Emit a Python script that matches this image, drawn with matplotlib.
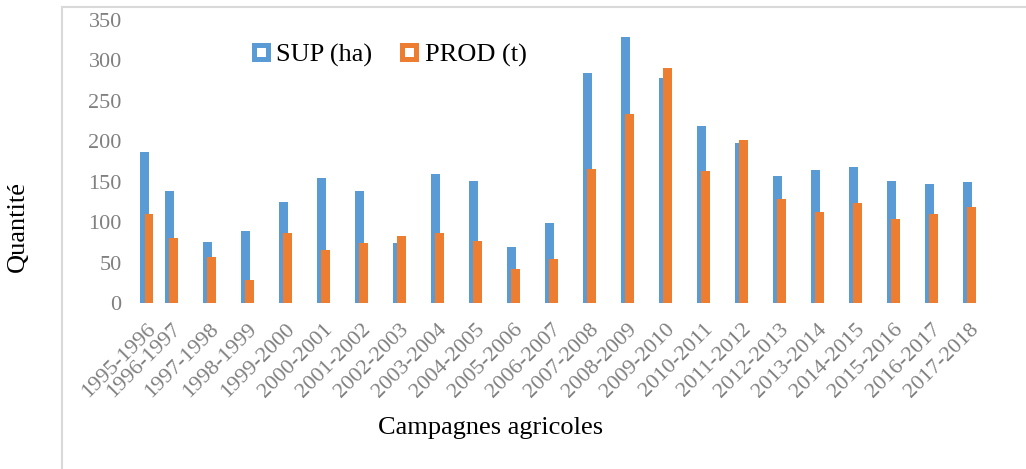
import numpy as np
import matplotlib
matplotlib.use('Agg')
import matplotlib.pyplot as plt
from matplotlib.lines import Line2D
from matplotlib.patches import Rectangle

plt.rcParams['font.family'] = ['Liberation Serif', 'DejaVu Serif']

# Campagnes agricoles
campagnes = ['1995-1996', '1996-1997', '1997-1998', '1998-1999', '1999-2000',
             '2000-2001', '2001-2002', '2002-2003', '2003-2004', '2004-2005',
             '2005-2006', '2006-2007', '2007-2008', '2008-2009', '2009-2010',
             '2010-2011', '2011-2012', '2012-2013', '2013-2014', '2014-2015',
             '2015-2016', '2016-2017', '2017-2018']

# SUP (ha)
sup = [187, 138, 75, 89, 125, 155, 138, 74, 160, 151, 69, 99,
       284, 329, 278, 219, 198, 157, 164, 168, 151, 147, 149]
# PROD (t)
prod = [110, 80, 57, 28, 86, 66, 74, 83, 87, 77, 42, 54,
        166, 234, 291, 163, 202, 128, 112, 124, 104, 110, 119]

c_sup = '#5B9BD5'
c_prod = '#ED7D31'
tick_col = '#808080'

fig = plt.figure(figsize=(10.26, 4.69), dpi=100)
ax = fig.add_axes([0.1227, 0.354, 0.8445, 0.6034])

# the first category sits closer to the second one in the original
x = np.arange(len(campagnes), dtype=float)
x[0] = 0.35

w = 0.23
ax.bar(x - 0.06, sup, width=w, color=c_sup, zorder=2)
ax.bar(x + 0.06, prod, width=w, color=c_prod, zorder=3)

ax.set_xlim(-0.2, 22.6)
ax.set_ylim(0, 350)
ax.set_yticks(np.arange(0, 351, 50))
ax.set_xticks(x)
ax.set_xticklabels(campagnes, rotation=45, ha='right', rotation_mode='anchor')
ax.tick_params(axis='both', length=0, labelsize=16, colors=tick_col)
ax.tick_params(axis='y', pad=3)
ax.tick_params(axis='x', pad=12)
for s in ax.spines.values():
    s.set_visible(False)

fig.text(491 / 1026, 1 - 428 / 469, 'Campagnes agricoles', fontsize=19,
         ha='center', va='center', color='black')
fig.text(18 / 1026, 1 - 227 / 469, 'Quantité', fontsize=19, rotation=90,
         ha='center', va='center', color='black')

handles = [Line2D([], [], ls='', marker='s', ms=9.5, mfc='white', mec=c_sup, mew=3.6),
           Line2D([], [], ls='', marker='s', ms=9.5, mfc='white', mec=c_prod, mew=3.6)]
fig.legend(handles, ['SUP (ha)', 'PROD (t)'], loc='center left',
           bbox_to_anchor=(250 / 1026, 1 - 55 / 469), ncol=2, frameon=False,
           fontsize=19, handlelength=0.8, handletextpad=0.2, columnspacing=1.0,
           borderpad=0, borderaxespad=0)

# chart frame (only the left and top edges show in the crop)
fig.add_artist(Rectangle((62 / 1026, -0.1), 1.0, 1 - 7 / 469 + 0.1, fill=False,
                         edgecolor='#D9D9D9', lw=1.5, transform=fig.transFigure))

fig.savefig('out.png', dpi=100)
